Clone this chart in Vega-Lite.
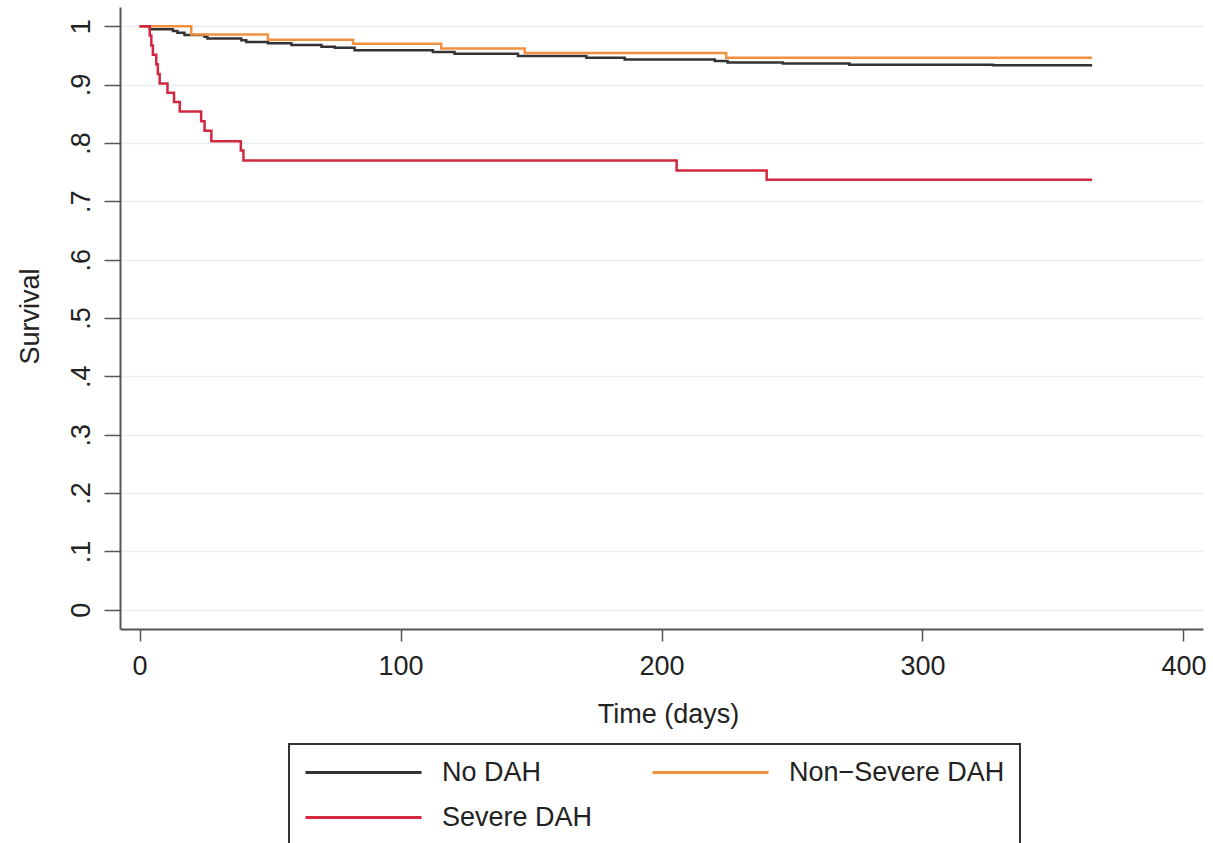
{
  "$schema": "https://vega.github.io/schema/vega-lite/v6.json",
  "autosize": "none",
  "width": 1083,
  "height": 622,
  "padding": {"left": 120, "top": 7, "right": 10, "bottom": 214},
  "background": "white",
  "config": {
    "view": {"stroke": null},
    "font": "Liberation Sans",
    "axis": {"labelFont": "Liberation Sans", "titleFont": "Liberation Sans", "labelColor": "#222", "titleColor": "#222", "titleFontWeight": "normal"},
    "legend": {"strokeWidth": 2}
  },
  "data": {
    "values": [
      {"group": "No DAH", "t": 0, "s": 1},
      {"group": "No DAH", "t": 3.9, "s": 0.995},
      {"group": "No DAH", "t": 12.8, "s": 0.992},
      {"group": "No DAH", "t": 14.5, "s": 0.989},
      {"group": "No DAH", "t": 17.2, "s": 0.985},
      {"group": "No DAH", "t": 24.9, "s": 0.982},
      {"group": "No DAH", "t": 26, "s": 0.979},
      {"group": "No DAH", "t": 39, "s": 0.976},
      {"group": "No DAH", "t": 40.9, "s": 0.973},
      {"group": "No DAH", "t": 49.2, "s": 0.971},
      {"group": "No DAH", "t": 58.2, "s": 0.968},
      {"group": "No DAH", "t": 69.7, "s": 0.965},
      {"group": "No DAH", "t": 74.8, "s": 0.963},
      {"group": "No DAH", "t": 82.4, "s": 0.959},
      {"group": "No DAH", "t": 112.4, "s": 0.956},
      {"group": "No DAH", "t": 120.7, "s": 0.953},
      {"group": "No DAH", "t": 145, "s": 0.949},
      {"group": "No DAH", "t": 171.2, "s": 0.946},
      {"group": "No DAH", "t": 185.9, "s": 0.943},
      {"group": "No DAH", "t": 220.4, "s": 0.9405},
      {"group": "No DAH", "t": 225.3, "s": 0.938},
      {"group": "No DAH", "t": 246.5, "s": 0.936},
      {"group": "No DAH", "t": 272, "s": 0.934},
      {"group": "No DAH", "t": 327, "s": 0.933},
      {"group": "No DAH", "t": 365, "s": 0.933},
      {"group": "Non−Severe DAH", "t": 0, "s": 1},
      {"group": "Non−Severe DAH", "t": 19.8, "s": 0.986},
      {"group": "Non−Severe DAH", "t": 49.2, "s": 0.977},
      {"group": "Non−Severe DAH", "t": 81.8, "s": 0.970},
      {"group": "Non−Severe DAH", "t": 115.6, "s": 0.962},
      {"group": "Non−Severe DAH", "t": 147.6, "s": 0.954},
      {"group": "Non−Severe DAH", "t": 224.8, "s": 0.946},
      {"group": "Non−Severe DAH", "t": 365, "s": 0.946},
      {"group": "Severe DAH", "t": 0, "s": 1},
      {"group": "Severe DAH", "t": 3.9, "s": 0.984},
      {"group": "Severe DAH", "t": 4.5, "s": 0.967},
      {"group": "Severe DAH", "t": 5.1, "s": 0.951},
      {"group": "Severe DAH", "t": 6.4, "s": 0.935},
      {"group": "Severe DAH", "t": 7.0, "s": 0.918},
      {"group": "Severe DAH", "t": 7.7, "s": 0.902},
      {"group": "Severe DAH", "t": 10.7, "s": 0.886},
      {"group": "Severe DAH", "t": 13.2, "s": 0.870},
      {"group": "Severe DAH", "t": 15.4, "s": 0.854},
      {"group": "Severe DAH", "t": 23.6, "s": 0.837},
      {"group": "Severe DAH", "t": 24.9, "s": 0.821},
      {"group": "Severe DAH", "t": 27.5, "s": 0.803},
      {"group": "Severe DAH", "t": 38.8, "s": 0.787},
      {"group": "Severe DAH", "t": 39.8, "s": 0.770},
      {"group": "Severe DAH", "t": 205.8, "s": 0.753},
      {"group": "Severe DAH", "t": 240.3, "s": 0.737},
      {"group": "Severe DAH", "t": 365, "s": 0.737}
    ]
  },
  "mark": {"type": "line", "interpolate": "step-after", "strokeWidth": 2.5},
  "encoding": {
    "x": {
      "field": "t", "type": "quantitative",
      "scale": {"domain": [-7.5, 407.5], "nice": false, "zero": false},
      "axis": {
        "title": "Time (days)", "values": [0, 100, 200, 300, 400], "grid": false,
        "tickSize": 12, "tickColor": "#555", "tickWidth": 1.5,
        "domainColor": "#555", "domainWidth": 2,
        "labelFontSize": 27, "labelBaseline": "alphabetic", "labelPadding": 33, "labelFlush": false, "labelOverlap": false,
        "titleFontSize": 27, "titleBaseline": "alphabetic", "titleY": 93, "titleX": 548, "titleAlign": "center"
      }
    },
    "y": {
      "field": "s", "type": "quantitative",
      "scale": {"domain": [-0.033, 1.033], "nice": false, "zero": false},
      "axis": {
        "title": "Survival", "values": [0, 0.1, 0.2, 0.3, 0.4, 0.5, 0.6, 0.7, 0.8, 0.9, 1],
        "labelExpr": "datum.value == 0 ? '0' : (datum.value == 1 ? '1' : replace(format(datum.value, '.1f'), '0.', '.'))",
        "grid": true, "gridColor": "#e6eff1", "gridWidth": 1.5,
        "tickSize": 16, "tickColor": "#555", "tickWidth": 1.5,
        "domainColor": "#555", "domainWidth": 2,
        "labelFontSize": 27, "labelAngle": 270, "labelAlign": "center", "labelBaseline": "alphabetic", "labelPadding": 15, "labelOverlap": false, "labelFlush": false,
        "titleFontSize": 27, "titleAngle": 270, "titleBaseline": "alphabetic", "titleAlign": "center", "titleX": -82, "titleY": 309
      }
    },
    "color": {
      "field": "group", "type": "nominal",
      "scale": {"domain": ["No DAH", "Non−Severe DAH", "Severe DAH"], "range": ["#333333", "#ee9140", "#d2283f"]},
      "legend": {
        "title": null, "orient": "none", "legendX": 169, "legendY": 737,
        "direction": "horizontal",
        "columns": 2, "symbolType": "stroke", "symbolSize": 13456, "symbolStrokeWidth": 3,
        "clipHeight": 27, "labelFontSize": 27, "labelColor": "#222", "labelOffset": 19, "labelLimit": 500,
        "columnPadding": 58, "rowPadding": 17, "padding": 15,
        "strokeColor": "#333",
        "labelExpr": "datum.label == 'Non−Severe DAH' ? datum.label + '\u00a0\u00a0\u00a0\u00a0\u00a0\u00a0\u00a0\u00a0' : datum.label"
      }
    }
  }
}
